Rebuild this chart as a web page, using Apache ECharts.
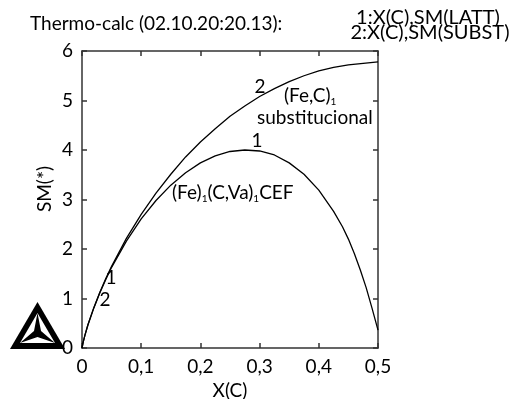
<!DOCTYPE html>
<html>
<head>
<meta charset="utf-8">
<script src="https://cdn.jsdelivr.net/npm/echarts@6/dist/echarts.min.js"></script>
<style>
  html, body { margin: 0; padding: 0; background: #fff; }
  #chart { width: 526px; height: 399px; }
</style>
</head>
<body>
<div id="chart"></div>
<script>
// curve 1: X(C), SM(LATT)
const lattX = [0, 0.002, 0.005, 0.01, 0.02, 0.03, 0.04, 0.05, 0.075, 0.1, 0.125, 0.15, 0.175, 0.2, 0.225, 0.25, 0.275, 0.3, 0.325, 0.35, 0.375, 0.4, 0.425, 0.44, 0.45, 0.46, 0.47, 0.48, 0.49, 0.5]
const lattSM = [0, 0.12, 0.26, 0.465, 0.81, 1.11, 1.38, 1.63, 2.16, 2.61, 2.98, 3.29, 3.54, 3.74, 3.88, 3.97, 4.0, 3.98, 3.9, 3.74, 3.51, 3.19, 2.76, 2.45, 2.2, 1.91, 1.58, 1.22, 0.8, 0.36]
// curve 2: X(C), SM(SUBST)
const substX = [0, 0.002, 0.005, 0.01, 0.02, 0.03, 0.04, 0.05, 0.075, 0.1, 0.125, 0.15, 0.175, 0.2, 0.225, 0.25, 0.275, 0.3, 0.325, 0.35, 0.375, 0.4, 0.425, 0.45, 0.475, 0.5]
const substSM = [0, 0.12, 0.26, 0.47, 0.815, 1.12, 1.4, 1.65, 2.215, 2.7, 3.13, 3.51, 3.86, 4.16, 4.43, 4.68, 4.89, 5.08, 5.24, 5.38, 5.5, 5.6, 5.67, 5.72, 5.75, 5.78]

const font = 'Lato, "Open Sans", sans-serif'
const axisColor = '#333'

function pairs(xs, ys) {
    return xs.map((x, i) => [x, ys[i]])
}

const chart = echarts.init(document.getElementById('chart'))

const frameAxis = {
    axisLine: { show: true, onZero: false, lineStyle: { color: axisColor, width: 1.5 } },
    axisTick: { show: true, inside: true, length: 5, lineStyle: { color: axisColor, width: 1.5 } },
    splitLine: { show: false }
}

chart.setOption({
    animation: false,
    grid: { left: 82, right: 148, top: 51, bottom: 51, outerBoundsMode: 'none', containLabel: false },
    xAxis: [{
        type: 'value', min: 0, max: 0.5, interval: 0.1, position: 'bottom',
        ...frameAxis,
        axisLabel: {
            color: '#000', fontFamily: font, fontSize: 19, margin: 9,
            formatter: v => v === 0 ? '0' : v.toFixed(1).replace('.', ',')
        },
        name: 'X(C)', nameLocation: 'middle', nameGap: 33,
        nameTextStyle: { color: '#000', fontFamily: font, fontSize: 19 }
    }, {
        type: 'value', min: 0, max: 0.5, interval: 0.1, position: 'top',
        ...frameAxis,
        axisLabel: { show: false }
    }],
    yAxis: [{
        type: 'value', min: 0, max: 6, interval: 1, position: 'left',
        ...frameAxis,
        axisLabel: { color: '#000', fontFamily: font, fontSize: 19, margin: 9 }
    }, {
        type: 'value', min: 0, max: 6, interval: 1, position: 'right',
        ...frameAxis,
        axisLabel: { show: false }
    }],
    series: [{
        name: 'LATT', type: 'line', data: pairs(lattX, lattSM),
        symbol: 'none', lineStyle: { color: '#000', width: 1.3 }
    }, {
        name: 'SUBST', type: 'line', data: pairs(substX, substSM),
        symbol: 'none', lineStyle: { color: '#000', width: 1.3 }
    }],
    graphic: [
        { type: 'text', left: 30, top: 14, style: { text: 'Thermo-calc (02.10.20:20.13):', fill: '#000', font: '19px ' + font } },
        { type: 'text', x: 428, y: 8, style: { text: '1:X(C),SM(LATT)', fill: '#000', font: '20px ' + font, textAlign: 'center' } },
        { type: 'text', x: 430, y: 23, style: { text: '2:X(C),SM(SUBST)', fill: '#000', font: '20px ' + font, textAlign: 'center' } },
        { type: 'text', x: 45, y: 189, rotation: Math.PI / 2, style: { text: 'SM(*)', fill: '#000', font: '19px ' + font, textAlign: 'center', textVerticalAlign: 'middle' } },
        // curve labels
        { type: 'text', x: 260, y: 87, style: { text: '2', fill: '#000', font: '19px ' + font, textAlign: 'center', textVerticalAlign: 'middle' } },
        { type: 'text', x: 257, y: 141, style: { text: '1', fill: '#000', font: '19px ' + font, textAlign: 'center', textVerticalAlign: 'middle' } },
        { type: 'text', x: 111, y: 278, style: { text: '1', fill: '#000', font: '19px ' + font, textAlign: 'center', textVerticalAlign: 'middle' } },
        { type: 'text', x: 105, y: 300, style: { text: '2', fill: '#000', font: '19px ' + font, textAlign: 'center', textVerticalAlign: 'middle' } },
        // phase descriptions
        {
            type: 'text', x: 284, y: 84,
            style: {
                text: '(Fe,C){s|1}', fill: '#000', font: '19px ' + font,
                rich: { s: { fontSize: 10, fontFamily: font, fill: '#000', padding: [13, 0, 0, 0] } }
            }
        },
        { type: 'text', x: 257, y: 108, style: { text: 'substitucional', fill: '#000', font: '19px ' + font } },
        {
            type: 'text', x: 172, y: 181,
            style: {
                text: '(Fe){s|1}(C,Va){s|1}CEF', fill: '#000', font: '19px ' + font,
                rich: { s: { fontSize: 10, fontFamily: font, fill: '#000', padding: [13, 0, 0, 0] } }
            }
        },
        // Thermo-Calc logo
        { type: 'polygon', shape: { points: [[10, 349], [65, 349], [37.5, 302]] }, style: { fill: '#000' } },
        { type: 'polygon', shape: { points: [[20, 343], [55, 343], [37.5, 313]] }, style: { fill: '#fff' } },
        { type: 'polygon', shape: { points: [[37.5, 313], [41, 331], [55, 343], [37.5, 337], [20, 343], [34, 331]] }, style: { fill: '#000' } }
    ]
})
</script>
</body>
</html>
